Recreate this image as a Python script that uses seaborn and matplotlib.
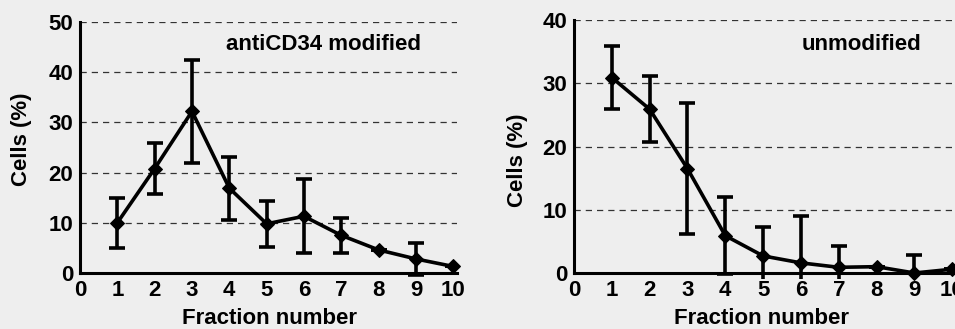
import matplotlib
matplotlib.use("Agg")
import matplotlib.pyplot as plt
import seaborn as sns
import numpy as np
import pandas as pd

fractions = [1, 2, 3, 4, 5, 6, 7, 8, 9, 10]
anti_mean = [10.0, 20.8, 32.2, 16.9, 9.8, 11.3, 7.5, 4.6, 2.8, 1.3]
anti_err = [5.0, 5.1, 10.3, 6.3, 4.6, 7.4, 3.5, 0.0, 3.2, 0.0]
unmod_mean = [30.9, 25.9, 16.5, 5.9, 2.7, 1.6, 0.9, 1.0, 0.0, 0.6]
unmod_err = [5.0, 5.2, 10.3, 6.1, 4.6, 7.4, 3.4, 0.0, 2.9, 0.0]
xticks = [0, 1, 2, 3, 4, 5, 6, 7, 8, 9, 10]
anti_yticks = [0, 10, 20, 30, 40, 50]
unmod_yticks = [0, 10, 20, 30, 40]
titles = ["antiCD34 modified", "unmodified"]
xlabel = "Fraction number"
ylabel = "Cells (%)"

sns.set_theme(style="white")
plt.rcParams['font.family'] = ['Liberation Sans', 'DejaVu Sans']
plt.rcParams['font.weight'] = 'bold'
for k in ['text.color', 'axes.labelcolor', 'xtick.color', 'ytick.color']:
    plt.rcParams[k] = 'black'

bg = '#eeeeee'
fs = 16
fig = plt.figure(figsize=(9.55, 3.29), dpi=100, facecolor=bg)
# axes: zero line at y=273px; lower limit slightly below zero so error bars clip just under the axis
ax1 = fig.add_axes([80/955, (56 - 251*0.02)/329, 377/955, 251*1.02/329])
ax2 = fig.add_axes([574/955, (56 - 253*0.025)/329, 382/955, 253*1.025/329])

panels = [
    (ax1, anti_mean, anti_err, anti_yticks, 50, titles[0], 323/955, (22, 139), (269, 318), 0.02),
    (ax2, unmod_mean, unmod_err, unmod_yticks, 40, titles[1], 861/955, (518, 160), (761, 318), 0.025),
]

for ax, mean, err, yt, ymax, title, tx, ylpos, xlpos, lowf in panels:
    ax.set_facecolor(bg)
    df = pd.DataFrame({"x": fractions, "y": mean})
    for t in yt[1:]:
        ax.axhline(t, color='#333333', lw=0.9, ls=(0, (5, 4)), zorder=0)
    ax.errorbar(fractions, mean, yerr=err, fmt='none', ecolor='black',
                elinewidth=2.6, capsize=6, capthick=2.6, zorder=2)
    sns.lineplot(data=df, x="x", y="y", ax=ax, color='black', lw=2.6,
                 marker='D', markersize=7.5, markeredgecolor='black', zorder=3,
                 clip_on=False)
    ax.set_xlim(0, 10.1)
    ax.set_ylim(-ymax*lowf, ymax)
    ax.spines['bottom'].set_position(('data', 0))
    ax.spines['left'].set_bounds(0, ymax)
    ax.set_xticks(xticks)
    ax.set_yticks(yt)
    ax.tick_params(axis='both', direction='in', length=4, width=1.5, colors='black',
                   labelsize=fs, pad=5)
    ax.tick_params(axis='x', pad=5)
    for lab in ax.get_xticklabels() + ax.get_yticklabels():
        lab.set_fontweight('bold')
    for s in ['top', 'right']:
        ax.spines[s].set_visible(False)
    for s in ['left', 'bottom']:
        ax.spines[s].set_color('black')
        ax.spines[s].set_linewidth(2.2)
    bb = ax.get_position()
    W, H = 955, 329
    x0, y0, w, h = bb.x0*W, (1-bb.y1)*H, bb.width*W, bb.height*H
    ax.set_xlabel(xlabel, fontsize=fs, fontweight='bold', va='center')
    ax.xaxis.set_label_coords((xlpos[0]-x0)/w, 1-(xlpos[1]-y0)/h)
    ax.set_ylabel(ylabel, fontsize=fs, fontweight='bold', va='center')
    ax.yaxis.set_label_coords((ylpos[0]-x0)/w, 1-(ylpos[1]-y0)/h)
    fig.text(tx, 1 - 45/329, title, fontsize=fs, fontweight='bold', ha='center', va='center')

fig.savefig("out.png", dpi=100, facecolor=bg)
